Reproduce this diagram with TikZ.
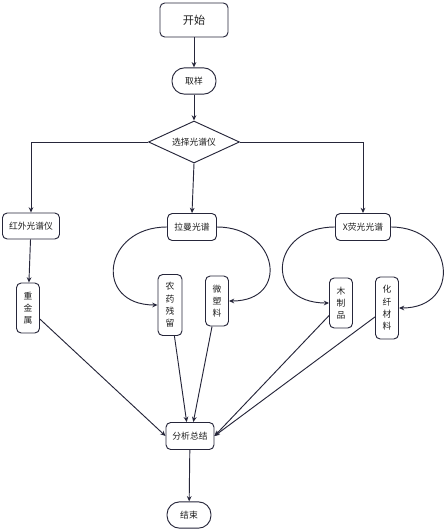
\documentclass[tikz,border=0pt]{standalone}
\usepackage{fontspec}
\setmainfont{Noto Sans CJK SC}
\usepackage{tikz}
\usetikzlibrary{arrows.meta, shapes.geometric}
\definecolor{flowline}{HTML}{26263A}
\definecolor{flowtext}{HTML}{1E1E1E}

\begin{document}
\begin{tikzpicture}[
        x=0.03cm, y=-0.03cm,
        font=\fontsize{7.5}{10.5}\selectfont,
        every node/.style={align=center, text=flowtext},
        >={Stealth[length=4.5pt, width=4pt]},
        flow/.style={->, draw=flowline, line width=0.8pt},
        box/.style={rectangle, rounded corners=4pt, draw=flowline, line width=0.8pt,
                    fill=white, inner sep=1pt},
        pill/.style={rectangle, rounded corners=3.8mm, draw=flowline, line width=0.8pt,
                     fill=white, minimum width=1.32cm, minimum height=0.79cm, inner sep=1pt},
        vbox/.style={box, minimum width=0.69cm},
        choice/.style={diamond, aspect=2.2, draw=flowline, line width=0.8pt,
                       fill=white, minimum width=2.73cm, minimum height=1.26cm, inner sep=0pt}
    ]
        \useasboundingbox (0,0) rectangle (445,531);

        % main column
        \node[box, minimum width=2.04cm, minimum height=1.02cm,
              font=\fontsize{9.5}{11}\selectfont] (start) at (194,20) {开始};
        \node[pill] (sample) at (194,81) {取样};
        \node[choice] (select) at (194,142) {选择光谱仪};

        % instruments
        \node[box, minimum width=1.71cm, minimum height=0.78cm] (ir) at (31,226) {红外光谱仪};
        \node[box, minimum width=1.47cm, minimum height=0.81cm] (raman) at (192,227) {拉曼光谱};
        \node[box, minimum width=1.65cm, minimum height=0.81cm] (xrf) at (363,227) {X荧光光谱};

        % samples
        \node[vbox, minimum height=1.5cm] (metal) at (28,308) {重\\金\\属};
        \node[vbox, minimum width=0.72cm, minimum height=1.83cm] (pesticide) at (170,305) {农\\药\\残\\留};
        \node[vbox, minimum height=1.5cm] (plastic) at (217,301) {微\\塑\\料};
        \node[vbox, minimum height=1.5cm] (wood) at (341,303) {木\\制\\品};
        \node[vbox, minimum height=1.86cm] (fiber) at (387,308) {化\\纤\\材\\料};

        \node[box, minimum width=1.44cm, minimum height=0.81cm] (summary) at (190,436) {分析总结};
        \node[pill] (finish) at (189,515) {结束};

        \draw[flow] (start) -- (sample);
        \draw[flow] (sample) -- (select);
        \draw[flow] (select.west) -| (ir.north);
        \draw[flow] (select.south) -- (raman.north);
        \draw[flow] (select.east) -| (xrf.north);

        \draw[flow] (ir) -- (metal);
        \draw[flow] (raman.west) to[out=180, in=180, looseness=2.1] (pesticide.west);
        \draw[flow] (raman.east) to[out=0, in=0, looseness=2.1] (plastic.east);
        \draw[flow] (xrf.west) to[out=180, in=180, looseness=2.2] (wood.west);
        \draw[flow] (xrf.east) to[out=0, in=0, looseness=2.0] (fiber.east);

        \draw[flow] (metal) -- (summary.west);
        \draw[flow] (pesticide) -- ([xshift=-1mm]summary.north);
        \draw[flow] (plastic) -- ([xshift=1mm]summary.north);
        \draw[flow] (wood) -- (summary.east);
        \draw[flow] (fiber) -- (summary.east);
        \draw[flow] (summary) -- (finish);
    \end{tikzpicture}
\end{document}
